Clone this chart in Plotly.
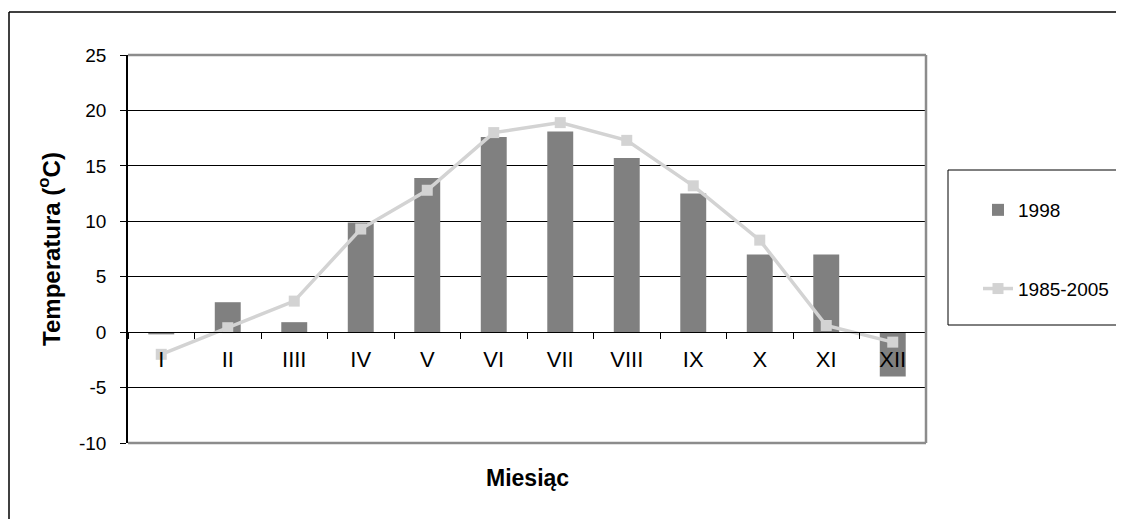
import plotly.graph_objects as go

months = ["I", "II", "IIII", "IV", "V", "VI", "VII", "VIII", "IX", "X", "XI", "XII"]
temp_1998 = [-0.2, 2.7, 0.9, 9.9, 13.9, 17.6, 18.1, 15.7, 12.5, 7.0, 7.0, -4.0]
temp_1985_2005 = [-2.0, 0.4, 2.8, 9.3, 12.8, 18.0, 18.9, 17.3, 13.2, 8.3, 0.6, -0.9]
y_tick_values = [-10, -5, 0, 5, 10, 15, 20, 25]
y_tick_labels = ["-10", "-5", "0", "5", "10", "15", "20", "25"]

FONT = "Liberation Sans, Arial, sans-serif"
OFF = 8  # page body margin
W, H = 1116, 511
L, T = 128 - OFF, 55 - OFF
R = W - (926 - OFF)
B = H - (443 - OFF)
PW, PH = W - L - R, H - T - B

def px_x(p):
    return (p - OFF - L) / PW

def px_y(p):
    return 1 - (p - OFF - T) / PH

fig = go.Figure()
fig.add_trace(go.Bar(
    x=months, y=temp_1998, name="1998",
    marker=dict(color="#808080", line=dict(width=0)),
    legendgroup="a",
))
fig.add_trace(go.Scatter(
    x=months, y=temp_1985_2005, name="1985-2005", mode="lines+markers",
    line=dict(color="#d3d3d3", width=3.5),
    marker=dict(symbol="square", size=11, color="#d3d3d3"),
    legendgroup="b",
))

ymin, ymax = -10, 25
fig.update_layout(
    width=W, height=H,
    margin=dict(l=L, r=R, t=T, b=B, autoexpand=False),
    paper_bgcolor="white", plot_bgcolor="white",
    font=dict(family=FONT, color="black", size=19),
    bargap=0.61,
    showlegend=True,
    legend=dict(
        x=px_x(978), y=px_y(191), xanchor="left", yanchor="top",
        bgcolor="rgba(0,0,0,0)", borderwidth=0,
        font=dict(family=FONT, size=19, color="black"),
        traceorder="grouped", tracegroupgap=51,
    ),
    xaxis=dict(
        type="category", categoryorder="array", categoryarray=months,
        anchor="free", position=(0 - ymin) / (ymax - ymin),
        showline=True, linecolor="black", linewidth=1,
        ticks="outside", ticklen=6, tickcolor="black", tickson="boundaries",
        showgrid=False, zeroline=False,
        tickfont=dict(family=FONT, size=22, color="black"),
        ticklabelstandoff=7,
        range=[-0.5, len(months) - 0.5],
    ),
    yaxis=dict(
        range=[ymin, ymax], tickmode="array",
        tickvals=y_tick_values, ticktext=y_tick_labels,
        showgrid=True, gridcolor="black", gridwidth=1,
        zeroline=False,
        showline=True, linecolor="black", linewidth=1.5,
        ticks="outside", ticklen=6, tickcolor="black",
        tickfont=dict(family=FONT, size=19, color="black"),
        ticklabelstandoff=10,
        title=dict(text="<b>Temperatura (<sup>o</sup>C)</b>",
                   font=dict(family=FONT, size=24, color="black"), standoff=12),
    ),
    annotations=[
        dict(text="<b>Miesiąc</b>", xref="paper", yref="paper",
             x=0.5, y=px_y(478), xanchor="center", yanchor="middle",
             showarrow=False, font=dict(family=FONT, size=23, color="black")),
    ],
    shapes=[
        # plot area frame (gray top, right, bottom)
        dict(type="line", xref="paper", yref="paper", x0=0, x1=1, y0=1, y1=1,
             line=dict(color="#8c8c8c", width=2.5), layer="above"),
        dict(type="line", xref="paper", yref="paper", x0=1, x1=1, y0=0, y1=1,
             line=dict(color="#8c8c8c", width=2.5), layer="above"),
        dict(type="line", xref="paper", yref="paper", x0=0, x1=1, y0=0, y1=0,
             line=dict(color="#8c8c8c", width=2.5), layer="above"),
        # legend box
        dict(type="rect", xref="paper", yref="paper",
             x0=px_x(948), x1=px_x(1140), y0=px_y(325), y1=px_y(170),
             line=dict(color="black", width=1), fillcolor="rgba(0,0,0,0)"),
        # outer chart frame
        dict(type="line", xref="paper", yref="paper",
             x0=px_x(9), x1=px_x(1140), y0=px_y(12), y1=px_y(12),
             line=dict(color="black", width=1.5)),
        dict(type="line", xref="paper", yref="paper",
             x0=px_x(9), x1=px_x(9), y0=px_y(12), y1=px_y(530),
             line=dict(color="black", width=1.5)),
    ],
)

fig.write_html("out.html")
